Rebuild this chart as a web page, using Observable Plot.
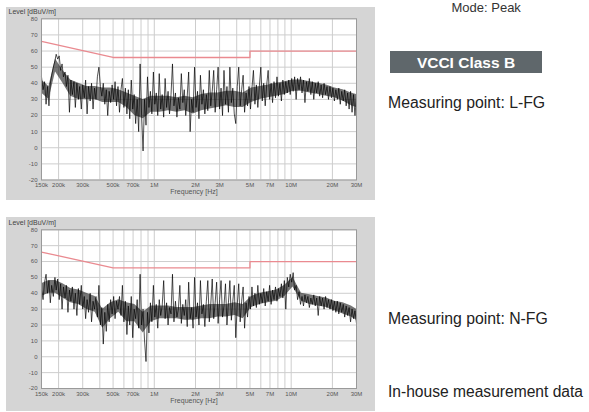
<!DOCTYPE html>
<html>
<head>
<meta charset="utf-8">
<script src="https://cdn.jsdelivr.net/npm/d3@7"></script>
<script src="https://cdn.jsdelivr.net/npm/@observablehq/plot@0.6"></script>
<style>
  html, body { margin: 0; padding: 0; background: #ffffff; }
  #page { position: relative; width: 589px; height: 412px; overflow: hidden; font-family: "Liberation Sans", Arial, sans-serif; }
  .panel { position: absolute; left: 6px; }
  #overlay { position: absolute; left: 0; top: 0; }
</style>
</head>
<body>
<div id="page">
  <div class="panel" id="chartL" style="top:7px"></div>
  <div class="panel" id="chartN" style="top:217px"></div>
  <svg id="overlay" width="589" height="412" font-family="Liberation Sans, Arial, sans-serif">
    <text x="451.5" y="12.3" font-size="13" fill="#333">Mode: Peak</text>
    <rect x="390" y="51" width="152" height="22" fill="#5f676b"></rect>
    <text x="466" y="68" font-size="15.5" font-weight="bold" fill="#ffffff" text-anchor="middle">VCCI Class B</text>
    <text x="388" y="108.3" font-size="15.8" fill="#222">Measuring point: L-FG</text>
    <text x="388" y="324" font-size="15.8" fill="#222">Measuring point: N-FG</text>
    <text x="388" y="396.5" font-size="15.6" fill="#222">In-house measurement data</text>
  </svg>
</div>
<script>
// Frequency grid of the measurement (kHz)
const freqKHz = [
  150,154,158,162,166,170,174, 178,183,188,192,197,202,207, 212,217,223,228,234,240,246, 252,259,265,272,279,285,293,
  300,308,315,323,331,340,348, 357,366,375,384,394,404,414, 424,435,446,457,468,480,492, 505,517,530,543,557,571,585,
  600,615,631,646,662,679,696, 713,731,750,769,788,808,828, 849,870,892,914,937,960,985, 1009,1034,1060,1087,1114,1142,1171,
  1200,1230,1261,1292,1325,1358,1392, 1427,1463,1500,1537,1576,1615,1656, 1697,1740,1783,1828,1874,1920,1969, 2018,2069,2120,2173,2228,2284,2341,
  2400,2460,2522,2585,2650,2717,2784, 2854,2926,3000,3074,3151,3230,3312, 3394,3480,3566,3655,3746,3840,3938, 4037,4138,4241,4346,4457,4567,4682,
  4800,4920,5045,5170,5299,5434,5568, 5707,5851,6000,6149,6302,6461,6624, 6787,6960,7133,7310,7493,7680,7877, 8074,8275,8482,8693,8914,9134,9365,
  9600,9840,10090,10339,10598,10867,11136, 11414,11702,12000,12298,12605,12922,13248, 13574,13920,14266,14621,14986,15360,15754, 16147,16550,16963,17386,17827,18269,18730,
  19200,19680,20179,20678,21197,21734,22272, 22829,23405,24000,24595,25210,25843,26496, 27149,27840,28531,29242,30000
];

// Measured level, L-FG (dBuV/m)
const levelLFG = [
  44,36,41,27,38,26,40, 45,50,54,58,55,57,48, 52,44,47,38,45,22,42, 33,41,25,40,30,38,24,
  39,31,42,21,38,29,40, 24,37,30,44,50,38,32, 40,27,36,20,35,28,39, 30,41,26,38,22,36,43,
  25,37,21,36,18,42,24, 33,15,30,10,52,20,-2, 30,14,44,25,35,21,47, 27,34,20,46,24,33,19,
  43,25,35,21,33,52,26, 34,19,31,24,46,28,36, 20,32,47,10,30,22,50, 25,35,18,45,27,36,21,
  33,23,48,26,35,48,22, 36,50,24,37,20,48,27, 38,22,50,28,37,21,15, 38,50,26,36,45,22,34,
  26,38,24,37,48,27,39, 25,38,50,29,40,26,39, 48,30,40,28,41,31,44, 32,40,29,42,33,41,34,
  42,33,43,35,44,30,43, 36,44,34,42,28,41,35, 43,33,41,30,40,34,41, 32,39,31,40,33,38,30,
  38,31,37,29,36,30,37, 27,35,29,36,26,34,24, 35,22,33,20,32
];

// Measured level, N-FG (dBuV/m)
const levelNFG = [
  42,36,47,52,40,48,34, 45,38,50,42,49,36,46, 30,44,37,45,28,42,35, 44,30,40,26,43,33,45,
  30,38,24,36,28,40,22, 35,30,38,25,45,20,31, 8,28,16,33,22,36,27, 38,24,35,30,38,26,45,
  22,35,14,32,20,38,12, 30,24,36,18,52,20,30, 10,-3,28,15,34,22,45, 25,33,18,36,26,32,48,
  24,34,20,31,27,52,22, 35,25,30,45,21,33,26, 36,19,47,24,31,18,50, 25,34,20,48,27,33,19,
  35,48,22,33,49,24,34, 47,21,36,48,25,32,46, 20,34,48,23,35,45,12, 33,46,22,35,44,18,34,
  25,38,30,44,32,40,31, 45,33,40,34,43,32,41, 35,45,33,42,36,44,35, 43,38,46,37,48,30,50,
  44,52,47,53,42,45,36, 41,33,38,32,39,34,38, 31,37,33,39,32,37,26, 38,32,37,30,38,31,36,
  30,36,29,35,28,35,27, 34,28,33,25,32,26,31, 22,30,24,29,21
];

// Dense core of the noise band (kHz, dBuV/m low / high)
const bandFreqKHz = [150,170,190,215,245,280,320,370,420,480,550,630,720,830,950,1100,1270,1460,1680,1930,
  2220,2550,2930,3370,3880,4460,5130,5900,6790,7810,8980,10300,11900,13700,15700,18100,20800,23900,27500,30000];
const bandLoL = [34,30,47,40,32,30,30,30,28,28,28,25,20,18,22,22,23,22,23,21,
  23,24,25,26,25,25,28,30,31,32,33,35,35,34,33,32,31,29,26,25];
const bandHiL = [42,38,55,48,42,40,38,38,37,37,36,34,32,30,32,32,32,31,32,31,
  33,34,34,35,35,34,37,38,39,40,41,42,42,41,40,39,37,36,34,33];
const bandLoN = [38,40,40,37,34,33,30,28,18,24,28,22,22,15,22,24,24,24,23,23,
  24,24,25,25,26,24,31,33,34,35,38,44,35,33,32,31,29,27,25,23];
const bandHiN = [46,48,48,46,43,42,40,38,30,34,36,34,33,28,32,32,32,31,31,31,
  32,33,33,33,34,33,38,40,41,42,45,50,40,39,38,37,35,34,32,30];

// Limit line (VCCI Class B)
const limitFreqKHz = [150, 500, 5000, 5000, 30000];
const limitLevel = [66, 56, 56, 60, 60];

// Axis ticks
const tickFreqKHz = [150, 200, 300, 500, 700, 1000, 2000, 3000, 5000, 7000, 10000, 20000, 30000];
const tickLabels = ["150k", "200k", "300k", "500k", "700k", "1M", "2M", "3M", "5M", "7M", "10M", "20M", "30M"];
const gridFreqKHz = [150, 200, 300, 400, 500, 600, 700, 800, 900, 1000, 2000, 3000, 4000, 5000, 6000, 7000, 8000, 9000, 10000, 20000, 30000];
const levelTicks = [-20, -10, 0, 10, 20, 30, 40, 50, 60, 70, 80];

const limitRows = limitFreqKHz.map((f, i) => ({f, v: limitLevel[i]}));
const tickRows = tickFreqKHz.map((f, i) => ({f, label: tickLabels[i]}));

function chart(levels, lo, hi, h, mt, mb) {
  const rows = freqKHz.map((f, i) => ({f, v: levels[i]}));
  const band = bandFreqKHz.map((f, i) => ({f, lo: lo[i], hi: hi[i]}));
  return Plot.plot({
    width: 369,
    height: h,
    marginLeft: 35,
    marginRight: 19,
    marginTop: mt,
    marginBottom: mb,
    style: {background: "#d5d5d5", color: "#555", fontSize: "6px", fontFamily: "Liberation Sans, Arial, sans-serif"},
    x: {type: "log", domain: [150, 30000], axis: null},
    y: {domain: [-20, 80], axis: null},
    marks: [
      Plot.frame({fill: "white"}),
      Plot.ruleX(gridFreqKHz, {stroke: "#cdcdcd", strokeWidth: 1}),
      Plot.ruleY(levelTicks, {stroke: "#cdcdcd", strokeWidth: 1}),
      Plot.line(limitRows, {x: "f", y: "v", stroke: "#ea8a90", strokeWidth: 1.3}),
      Plot.areaY(band, {x: "f", y1: "lo", y2: "hi", fill: "#111", fillOpacity: 0.58}),
      Plot.line(rows, {x: "f", y: "v", stroke: "#000", strokeWidth: 0.75, strokeOpacity: 0.9}),
      Plot.frame({stroke: "#9a9a9a"}),
      Plot.text(tickRows, {x: "f", text: "label", frameAnchor: "bottom", lineAnchor: "top", dy: 3, fontSize: 6, fill: "#555"}),
      Plot.text(levelTicks, {y: d => d, text: d => String(d), frameAnchor: "left", textAnchor: "end", dx: -4, fontSize: 6, fill: "#555"}),
      Plot.text(["Level [dBuV/m]"], {text: d => d, frameAnchor: "top-left", dx: -33, dy: -5,
        textAnchor: "start", lineAnchor: "bottom", fontSize: 7, fill: "#444"}),
      Plot.text(["Frequency [Hz]"], {text: d => d, frameAnchor: "bottom", dx: -5, dy: 14,
        fontSize: 7, fill: "#555"})
    ]
  });
}

document.getElementById("chartL").append(chart(levelLFG, bandLoL, bandHiL, 193, 11.3, 20.5));
document.getElementById("chartN").append(chart(levelNFG, bandLoN, bandHiN, 194, 12.3, 23));
</script>
</body>
</html>
